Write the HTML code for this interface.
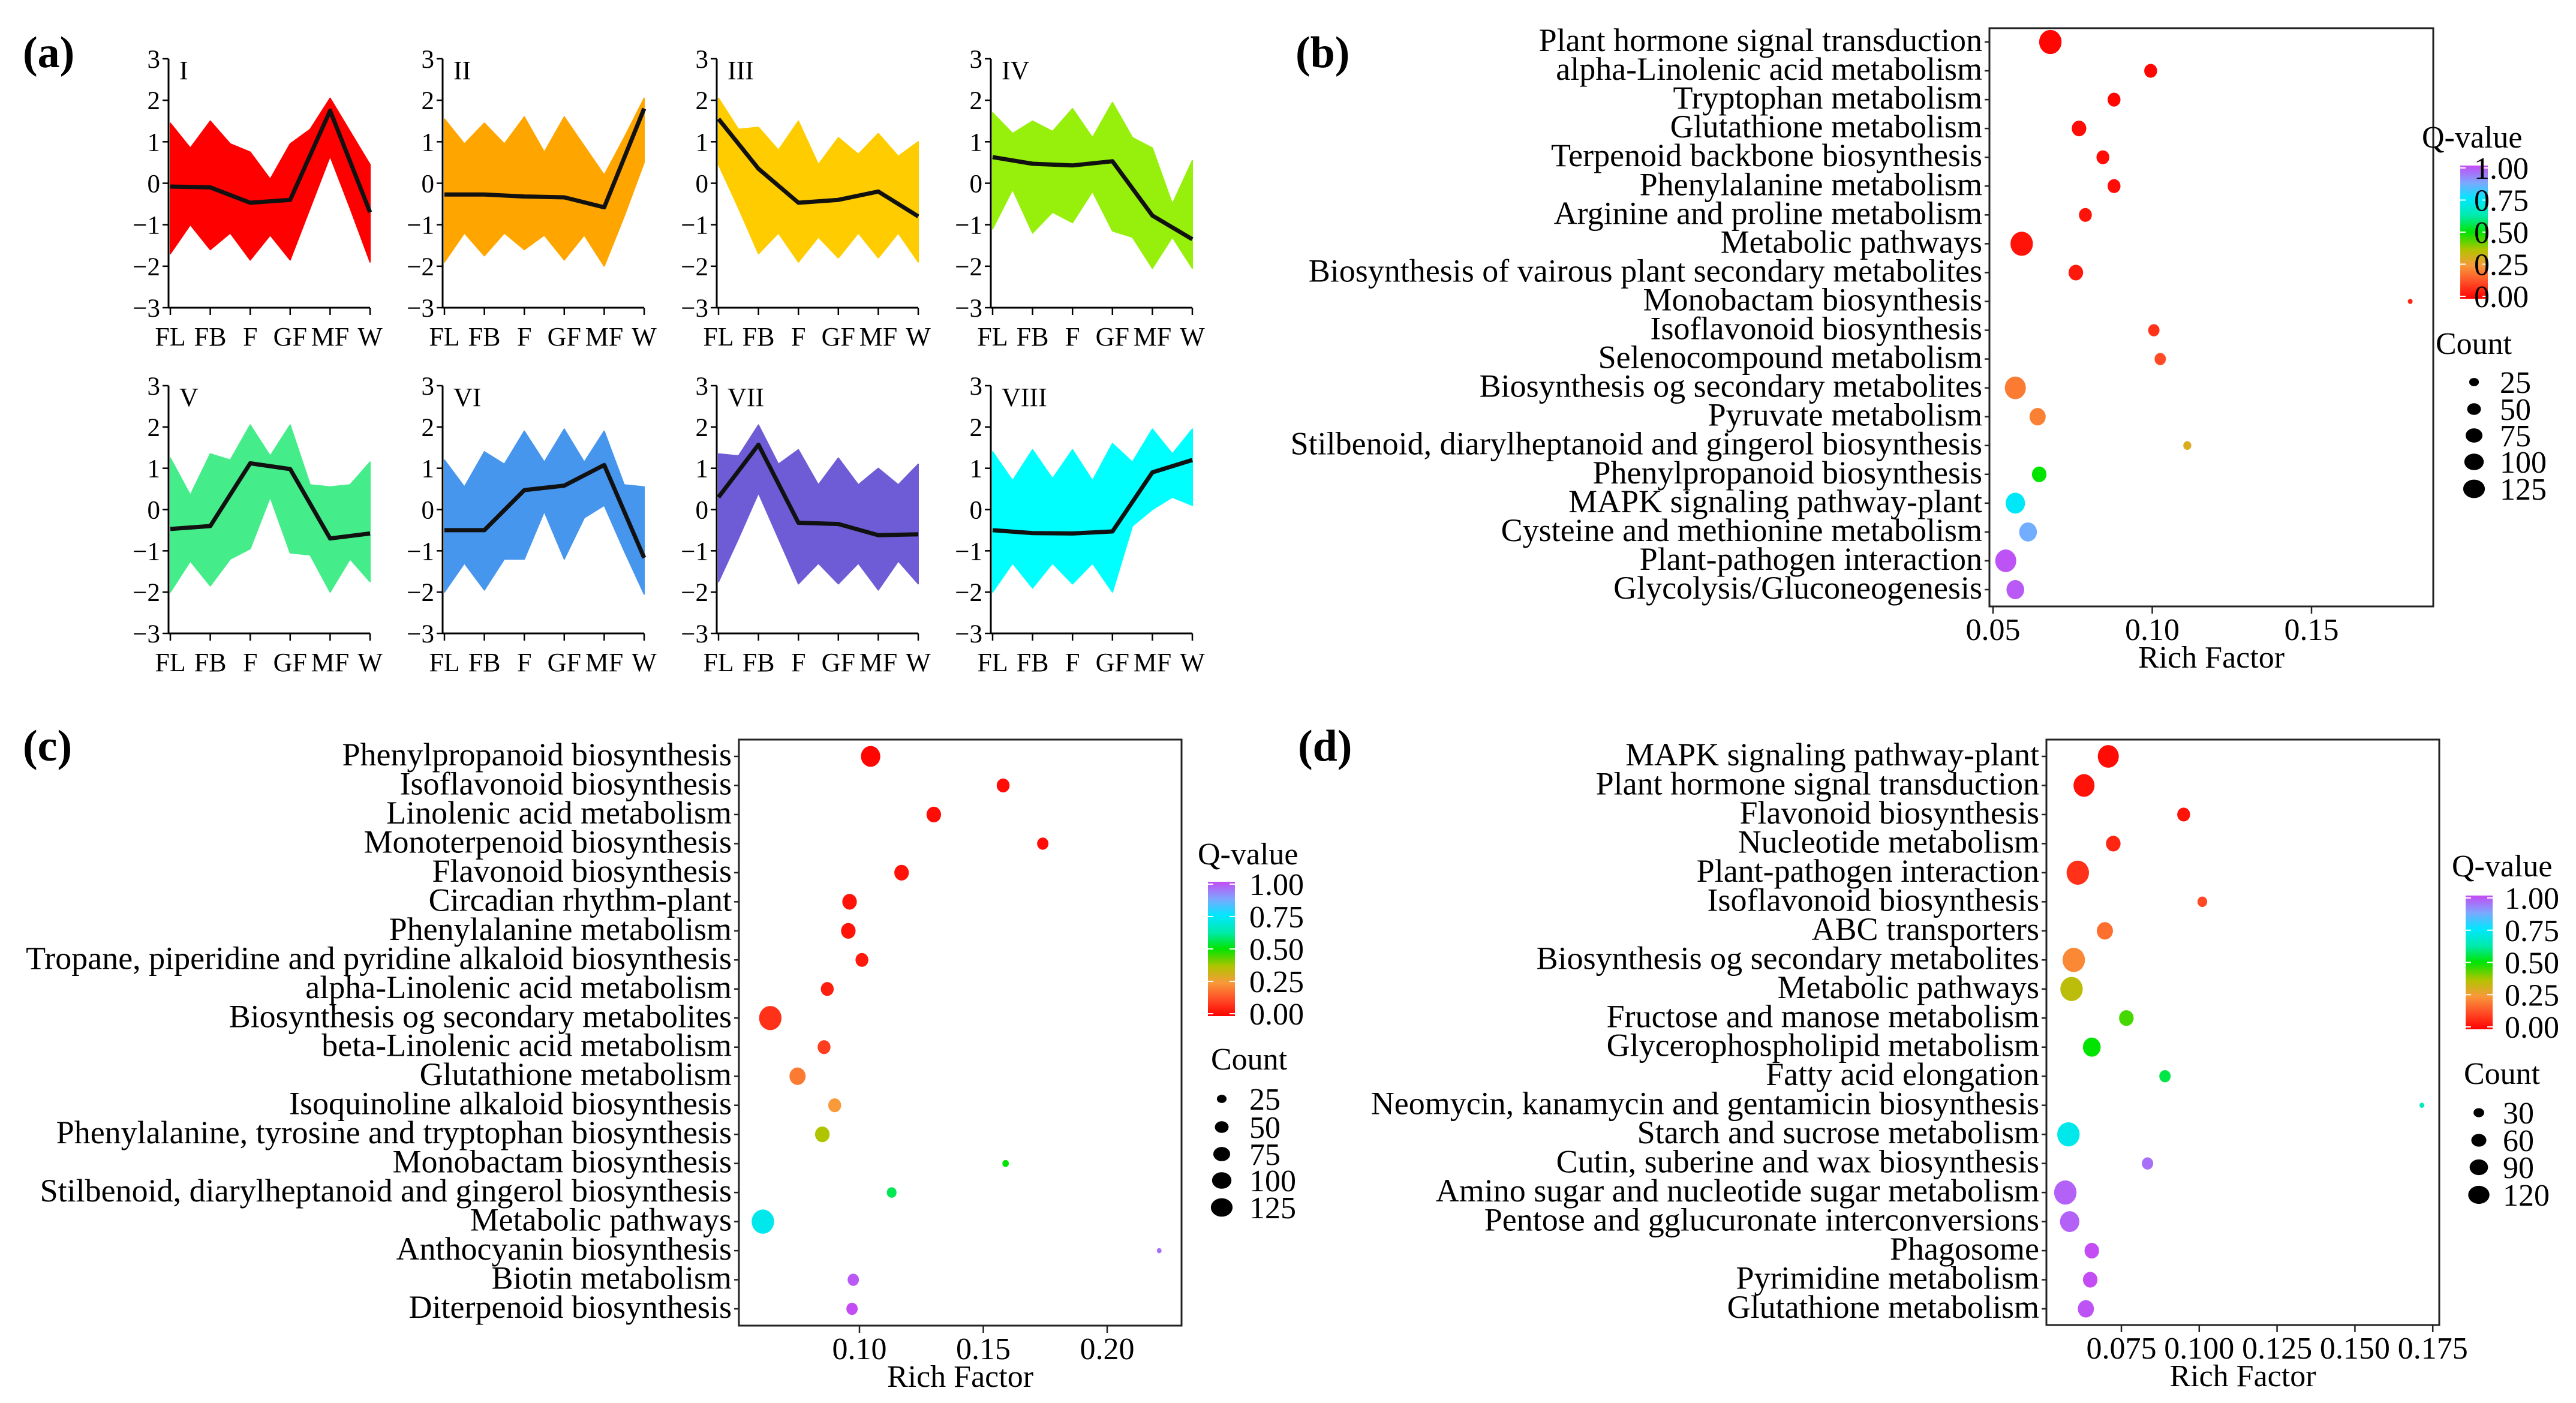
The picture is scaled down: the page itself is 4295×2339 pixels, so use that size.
<!DOCTYPE html>
<html><head><meta charset="utf-8">
<style>
html,body{margin:0;padding:0;background:#fff;}
svg{display:block;}
text{font-family:"Liberation Serif","DejaVu Serif",serif;fill:#000;}
</style></head>
<body>
<svg id="fig" width="4295" height="2339" viewBox="0 0 4295 2339" xmlns="http://www.w3.org/2000/svg">
<defs>
<linearGradient id="qgrad" x1="0" y1="1" x2="0" y2="0">
<stop offset="0" stop-color="#ff0000"/><stop offset="0.12" stop-color="#ff4a25"/>
<stop offset="0.25" stop-color="#f89a3a"/><stop offset="0.37" stop-color="#b0c400"/>
<stop offset="0.5" stop-color="#00e400"/><stop offset="0.62" stop-color="#00eaa8"/>
<stop offset="0.75" stop-color="#00e8ff"/><stop offset="0.87" stop-color="#7ca8ff"/>
<stop offset="1" stop-color="#c44cf4"/>
</linearGradient>
</defs>
<text x="38" y="112" font-size="74" font-weight="bold">(a)</text>
<text x="2160" y="112" font-size="74" font-weight="bold">(b)</text>
<text x="38" y="1268" font-size="74" font-weight="bold">(c)</text>
<text x="2164" y="1268" font-size="74" font-weight="bold">(d)</text>
<g id="pa"></g>
<g id="pb"></g>
<g id="pc"></g>
<g id="pd"></g>
</svg>
<script>
// ---------- Panel (a) data ----------
const stages = ["FL","FB","F","GF","MF","W"];
const yTicksA = [3,2,1,0,-1,-2,-3];
const clusterNames = ["I","II","III","IV","V","VI","VII","VIII"];
const clusterColors = ["#ff0000","#ffa500","#ffcc00","#97ef0c","#45ed8a","#4696ee","#6e5cd6","#00ffff"];
const meanI=[-0.08,-0.1,-0.47,-0.4,1.75,-0.7];
const meanII=[-0.27,-0.27,-0.32,-0.34,-0.58,1.8];
const meanIII=[1.55,0.35,-0.47,-0.4,-0.2,-0.8];
const meanIV=[0.63,0.47,0.43,0.53,-0.78,-1.35];
const meanV=[-0.47,-0.4,1.12,0.98,-0.7,-0.58];
const meanVI=[-0.5,-0.5,0.47,0.58,1.08,-1.17];
const meanVII=[0.3,1.57,-0.32,-0.35,-0.62,-0.6];
const meanVIII=[-0.5,-0.57,-0.58,-0.53,0.9,1.2];
// envelopes: values at FL, mid, FB, mid, F, mid, GF, mid, MF, mid, W
const upI=[1.45,0.85,1.5,0.95,0.75,0.1,0.95,1.3,2.05,1.25,0.45];
const loI=[-1.7,-1.0,-1.6,-1.2,-1.85,-1.25,-1.85,-0.6,0.65,-0.6,-1.9];
const upII=[1.55,0.95,1.45,0.95,1.6,0.75,1.6,0.9,0.2,1.1,2.05];
const loII=[-1.9,-1.2,-1.75,-1.2,-1.6,-1.25,-1.85,-1.25,-2.0,-0.8,0.5];
const upIII=[2.05,1.3,1.35,0.8,1.5,0.45,1.1,0.7,1.2,0.65,1.0];
const loIII=[0.45,-0.6,-1.7,-1.2,-1.9,-1.3,-1.8,-1.2,-1.8,-1.2,-1.9];
const upIV=[1.7,1.2,1.5,1.25,1.8,1.1,1.95,1.1,0.85,-0.5,0.55];
const loIV=[-1.1,-0.15,-1.2,-0.7,-0.95,-0.2,-1.15,-1.3,-2.05,-1.3,-2.05];
const upV=[1.25,0.35,1.35,1.2,2.05,1.3,2.05,0.6,0.55,0.6,1.15];
const loV=[-2.0,-1.25,-1.85,-1.2,-0.95,0.3,-1.05,-1.1,-2.0,-1.2,-1.75];
const upVI=[1.2,0.55,1.4,1.1,1.9,1.15,1.95,1.15,1.9,0.6,0.55];
const loVI=[-2.0,-1.3,-1.95,-1.2,-1.2,-0.05,-1.2,-0.2,0.1,-1.0,-2.05];
const upVII=[1.35,1.3,2.05,1.1,1.45,0.6,1.25,0.6,1.0,0.6,1.1];
const loVII=[-1.75,-0.7,0.4,-0.7,-1.8,-1.3,-1.8,-1.3,-1.95,-1.25,-1.8];
const upVIII=[1.4,0.7,1.45,0.75,1.45,0.7,1.6,1.15,1.95,1.35,1.95];
const loVIII=[-2.0,-1.3,-1.9,-1.3,-1.8,-1.3,-2.0,-0.4,0.0,0.3,0.1];
const meansA=[meanI,meanII,meanIII,meanIV,meanV,meanVI,meanVII,meanVIII];
const upsA=[upI,upII,upIII,upIV,upV,upVI,upVII,upVIII];
const losA=[loI,loII,loIII,loIV,loV,loVI,loVII,loVIII];

// ---------- Panel (b) data ----------
const bTerms=["Plant hormone signal transduction","alpha-Linolenic acid metabolism","Tryptophan metabolism","Glutathione metabolism","Terpenoid backbone biosynthesis","Phenylalanine metabolism","Arginine and proline metabolism","Metabolic pathways","Biosynthesis of vairous plant secondary metabolites","Monobactam biosynthesis","Isoflavonoid biosynthesis","Selenocompound metabolism","Biosynthesis og secondary metabolites","Pyruvate metabolism","Stilbenoid, diarylheptanoid and gingerol biosynthesis","Phenylpropanoid biosynthesis","MAPK signaling pathway-plant","Cysteine and methionine metabolism","Plant-pathogen interaction","Glycolysis/Gluconeogenesis"];
const bRich=[0.068,0.0995,0.088,0.077,0.0845,0.088,0.079,0.059,0.076,0.181,0.1005,0.1025,0.057,0.064,0.111,0.0645,0.057,0.061,0.054,0.057];
const bCount=[133,44,44,56,44,44,44,133,56,6,34,34,117,69,17,56,99,83,117,83];
const bQ=[0.01,0.01,0.01,0.02,0.02,0.02,0.03,0.03,0.04,0.06,0.08,0.12,0.2,0.21,0.3,0.5,0.74,0.86,0.99,0.98];
const bXTicks=[0.05,0.10,0.15];
const bXTickLabels=["0.05","0.10","0.15"];

// ---------- Panel (c) data ----------
const cTerms=["Phenylpropanoid biosynthesis","Isoflavonoid biosynthesis","Linolenic acid metabolism","Monoterpenoid biosynthesis","Flavonoid biosynthesis","Circadian rhythm-plant","Phenylalanine metabolism","Tropane, piperidine and pyridine alkaloid biosynthesis","alpha-Linolenic acid metabolism","Biosynthesis og secondary metabolites","beta-Linolenic acid metabolism","Glutathione metabolism","Isoquinoline alkaloid biosynthesis","Phenylalanine, tyrosine and tryptophan biosynthesis","Monobactam biosynthesis","Stilbenoid, diarylheptanoid and gingerol biosynthesis","Metabolic pathways","Anthocyanin biosynthesis","Biotin metabolism","Diterpenoid biosynthesis"];
const cRich=[0.1045,0.158,0.130,0.174,0.117,0.096,0.0955,0.101,0.087,0.064,0.0857,0.075,0.090,0.085,0.159,0.113,0.061,0.221,0.0975,0.097];
const cCount=[99,44,56,34,56,56,56,44,44,133,44,69,44,56,11,25,133,6,34,34];
const cQ=[0.01,0.02,0.02,0.02,0.03,0.03,0.03,0.04,0.05,0.08,0.1,0.2,0.25,0.37,0.5,0.56,0.72,0.95,0.98,1.0];
const cXTicks=[0.10,0.15,0.20];
const cXTickLabels=["0.10","0.15","0.20"];

// ---------- Panel (d) data ----------
const dTerms=["MAPK signaling pathway-plant","Plant hormone signal transduction","Flavonoid biosynthesis","Nucleotide metabolism","Plant-pathogen interaction","Isoflavonoid biosynthesis","ABC transporters","Biosynthesis og secondary metabolites","Metabolic pathways","Fructose and manose metabolism","Glycerophospholipid metabolism","Fatty acid elongation","Neomycin, kanamycin and gentamicin biosynthesis","Starch and sucrose metabolism","Cutin, suberine and wax biosynthesis","Amino sugar and nucleotide sugar metabolism","Pentose and gglucuronate interconversions","Phagosome","Pyrimidine metabolism","Glutathione metabolism"];
const dRich=[0.0708,0.063,0.095,0.0724,0.061,0.101,0.0697,0.0597,0.059,0.0766,0.0655,0.089,0.1715,0.058,0.0834,0.057,0.0584,0.0655,0.065,0.0636];
const dCount=[117,117,44,56,133,25,69,133,133,56,83,34,6,133,34,133,99,56,56,69];
const dQ=[0.02,0.03,0.03,0.06,0.08,0.12,0.18,0.22,0.35,0.45,0.5,0.55,0.65,0.72,0.95,0.97,0.97,1.0,1.0,0.99];
const dXTicks=[0.075,0.100,0.125,0.150,0.175];
const dXTickLabels=["0.075","0.100","0.125","0.150","0.175"];

const qTicks=[0,0.25,0.5,0.75,1];
const qTickLabels=["0.00","0.25","0.50","0.75","1.00"];
const countLegendBC=[25,50,75,100,125];
const countLegendD=[30,60,90,120];

const NS="http://www.w3.org/2000/svg";
function mk(parent,tag,attrs,txt){const e=document.createElementNS(NS,tag);for(const k in attrs)e.setAttribute(k,attrs[k]);if(txt!==undefined)e.textContent=txt;parent.appendChild(e);return e;}

const qStops=[[0,[255,0,0]],[0.12,[255,74,37]],[0.25,[248,154,58]],[0.37,[176,196,0]],[0.5,[0,228,0]],[0.62,[0,234,168]],[0.75,[0,232,255]],[0.87,[124,168,255]],[1,[196,76,244]]];
function qColor(q){for(let i=1;i<qStops.length;i++){if(q<=qStops[i][0]){const a=qStops[i-1],b=qStops[i];const t=(q-a[0])/(b[0]-a[0]);const c=a[1].map((v,j)=>Math.round(v+(b[1][j]-v)*t));return "rgb("+c.join(",")+")";}}return "rgb(196,76,244)";}
function rCount(c){return 1.62*Math.sqrt(c);}

// ---------- draw panel a ----------
(function(){
  const g=document.getElementById('pa');
  const axX=[281,738,1195,1652];
  const rows=[{top:98,bot:513},{top:643,bot:1056}];
  for(let k=0;k<8;k++){
    const ax=axX[k%4], rw=rows[Math.floor(k/4)];
    const sub=mk(g,'g',{});
    
    
    const x0=ax+3, step=(336-3)/5;
    const sx=i=>x0+i*step;
    const sy=v=>rw.top+(3-v)*(rw.bot-rw.top)/6;
    const up=upsA[k], lo=losA[k];
    let pts=[];
    for(let i=0;i<up.length;i++)pts.push(sx(i/2).toFixed(1)+","+sy(up[i]).toFixed(1));
    for(let i=lo.length-1;i>=0;i--)pts.push(sx(i/2).toFixed(1)+","+sy(lo[i]).toFixed(1));
    const band=mk(sub,'polygon',{points:pts.join(" "),fill:clusterColors[k],stroke:clusterColors[k],'stroke-width':2,'stroke-linejoin':'round'});
    
    
    const m=meansA[k];
    const mp=m.map((v,i)=>sx(i).toFixed(1)+","+sy(v).toFixed(1)).join(" ");
    const ml=mk(sub,'polyline',{points:mp,fill:'none',stroke:'#111','stroke-width':7,'stroke-linejoin':'round'});
    
    
    mk(sub,'line',{x1:ax,y1:rw.top,x2:ax,y2:rw.bot,stroke:'#000','stroke-width':3});
    mk(sub,'line',{x1:ax,y1:rw.bot,x2:sx(5),y2:rw.bot,stroke:'#000','stroke-width':3});
    yTicksA.forEach(v=>{
      mk(sub,'line',{x1:ax-10,y1:sy(v),x2:ax,y2:sy(v),stroke:'#000','stroke-width':2.5});
      const t=mk(sub,'text',{x:ax-14,y:sy(v)+15,'font-size':43,'text-anchor':'end'},v<0?"\u2212"+(-v):String(v));
      
      
    });
    stages.forEach((s,i)=>{
      mk(sub,'line',{x1:sx(i),y1:rw.bot,x2:sx(i),y2:rw.bot+12,stroke:'#000','stroke-width':2.5});
      const t=mk(sub,'text',{x:sx(i),y:rw.bot+63,'font-size':44,'text-anchor':'middle'},s);
      
      
    });
    const ttl=mk(sub,'text',{x:ax+18,y:rw.top+34,'font-size':44},clusterNames[k]);
    
    
  }
})();

// ---------- dot plot ----------
function dotPlot(gid,cfg,terms,rich,count,q,ticks,tickLabels,countLegend){
  const g=document.getElementById(gid);
  const sx=v=>cfg.x0+(v-cfg.v0)*cfg.ppu;
  const rowY=i=>cfg.rowTop+i*(cfg.rowBot-cfg.rowTop)/(terms.length-1);
  const box=mk(g,'rect',{x:cfg.left,y:cfg.top,width:cfg.right-cfg.left,height:cfg.bottom-cfg.top,fill:'none',stroke:'#222','stroke-width':3});
  
  
  terms.forEach((t,i)=>{
    const y=rowY(i);
    mk(g,'line',{x1:cfg.left-8,y1:y,x2:cfg.left,y2:y,stroke:'#222','stroke-width':2.5});
    const tx=mk(g,'text',{x:cfg.left-12,y:y+15,'font-size':cfg.fs,'text-anchor':'end'},t);
    
    
  });
  terms.forEach((t,i)=>{
    const c=mk(g,'ellipse',{cx:sx(rich[i]),cy:rowY(i),rx:rCount(count[i]),ry:rCount(count[i])*1.08,fill:qColor(q[i])});
    
    
  });
  ticks.forEach((v,i)=>{
    mk(g,'line',{x1:sx(v),y1:cfg.bottom,x2:sx(v),y2:cfg.bottom+12,stroke:'#222','stroke-width':2.5});
    const tl=mk(g,'text',{x:sx(v),y:cfg.bottom+56,'font-size':52,'text-anchor':'middle'},tickLabels[i]);
    
    
  });
  const xt=mk(g,'text',{x:(cfg.left+cfg.right)/2,y:cfg.bottom+102,'font-size':52,'text-anchor':'middle'},"Rich Factor");
  
  
  // legend
  const L=cfg.leg;
  const qt=mk(g,'text',{x:L.qtx,y:L.qty,'font-size':52},"Q-value");
  
  
  const bar=mk(g,'rect',{x:L.bx0,y:L.by0,width:L.bx1-L.bx0,height:L.by1-L.by0,fill:'url(#qgrad)'});
  
  
  qTicks.forEach((v,i)=>{
    const y=L.by1-v*(L.by1-L.by0-8)-4;
    mk(g,'line',{x1:L.bx0,y1:y,x2:L.bx0+9,y2:y,stroke:'#fff','stroke-width':2});
    mk(g,'line',{x1:L.bx1-9,y1:y,x2:L.bx1,y2:y,stroke:'#fff','stroke-width':2});
    const t=mk(g,'text',{x:L.lx,y:y+18,'font-size':52},qTickLabels[i]);
    
    
  });
  const ct=mk(g,'text',{x:L.ctx,y:L.cty,'font-size':52},"Count");
  
  
  countLegend.forEach((c,i)=>{
    const y=L.ey[i];
    const d=mk(g,'ellipse',{cx:L.dx,cy:y,rx:rCount(c),ry:rCount(c)*0.85,fill:'#000'});
    
    
    const t=mk(g,'text',{x:L.tx,y:y+18,'font-size':52},String(c));
    
    
  });
}

dotPlot('pb',{left:3317,right:4057,top:47,bottom:1011,rowTop:70,rowBot:983,x0:3323,v0:0.05,ppu:5310,fs:54,
  leg:{qtx:4038,qty:246,bx0:4102,bx1:4148,by0:276,by1:498,lx:4125,ctx:4061,cty:590,ey:[637,682,726,770,815],dx:4125,tx:4168}},
  bTerms,bRich,bCount,bQ,bXTicks,bXTickLabels,countLegendBC);
dotPlot('pc',{left:1232,right:1970,top:1233,bottom:2210,rowTop:1261,rowBot:2182,x0:1433,v0:0.10,ppu:4130,fs:54,
  leg:{qtx:1997,qty:1441,bx0:2014,bx1:2059,by0:1470,by1:1694,lx:2083,ctx:2019,cty:1783,ey:[1832,1879,1924,1968,2013],dx:2037,tx:2083}},
  cTerms,cRich,cCount,cQ,cXTicks,cXTickLabels,countLegendBC);
dotPlot('pd',{left:3412,right:4067,top:1233,bottom:2209,rowTop:1261,rowBot:2182,x0:3537,v0:0.075,ppu:5192,fs:54,
  leg:{qtx:4088,qty:1461,bx0:4111,bx1:4156,by0:1493,by1:1716,lx:4176,ctx:4108,cty:1807,ey:[1855,1901,1946,1992],dx:4133,tx:4173}},
  dTerms,dRich,dCount,dQ,dXTicks,dXTickLabels,countLegendD);
</script>
</body></html>
